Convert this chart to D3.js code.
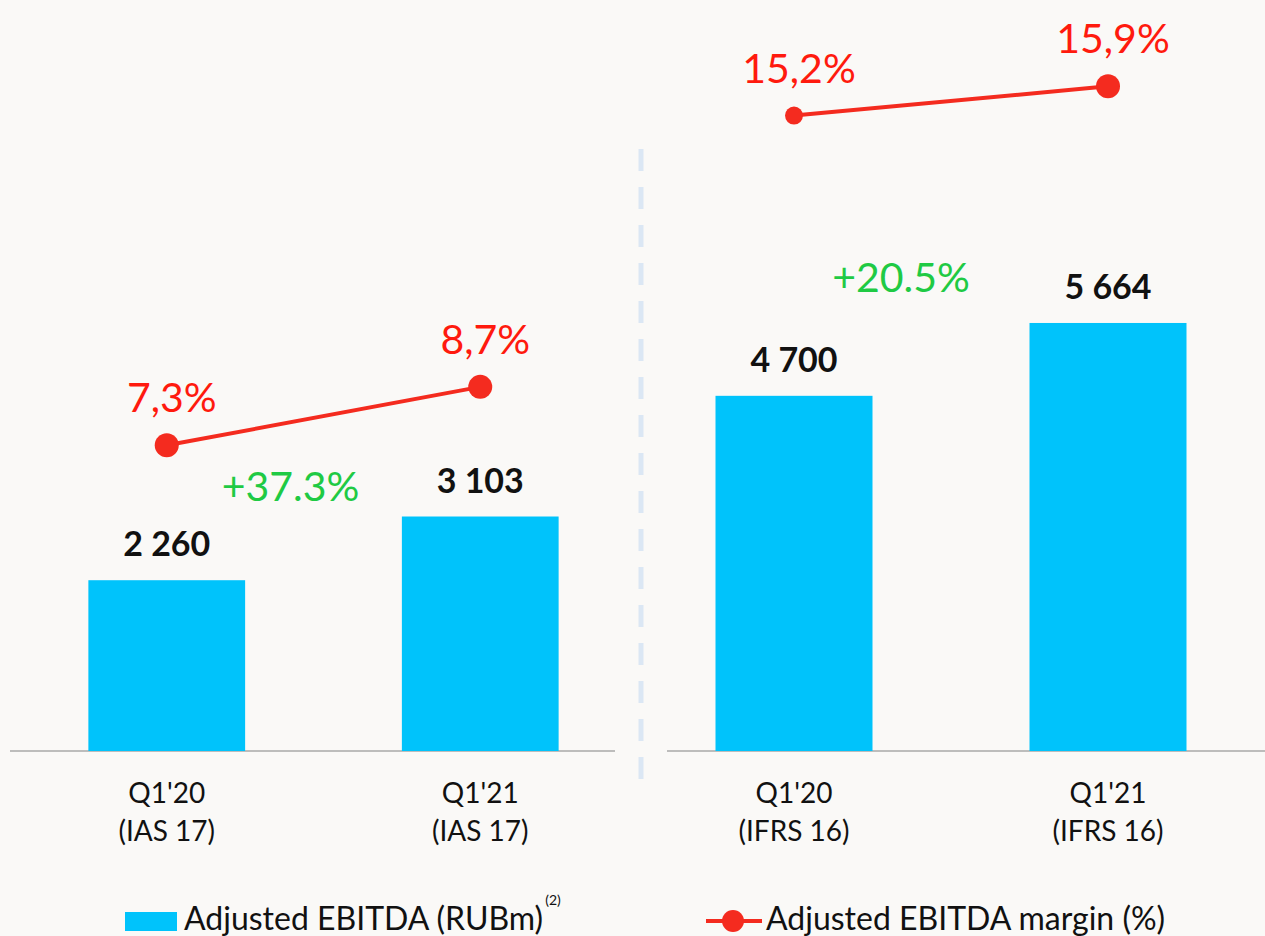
<!DOCTYPE html>
<html>
<head>
<meta charset="utf-8">
<script src="https://cdn.jsdelivr.net/npm/d3@7"></script>
<style>
  html, body { margin: 0; padding: 0; background: #faf9f7; }
  svg { display: block; font-family: Lato, "Open Sans", sans-serif; }
</style>
</head>
<body>
<svg id="chart" width="1265" height="936"></svg>
<script>
// Adjusted EBITDA by reporting standard
const categoriesIAS = ["Q1'20", "Q1'21"];
const categoriesIFRS = ["Q1'20", "Q1'21"];
const standardIAS = "(IAS 17)";
const standardIFRS = "(IFRS 16)";
const ebitdaIAS = [2260, 3103];
const ebitdaIFRS = [4700, 5664];
const marginIAS = [7.3, 8.7];
const marginIFRS = [15.2, 15.9];
const growthIAS = "+37.3%";
const growthIFRS = "+20.5%";
const legendBar = "Adjusted EBITDA (RUBm)";
const legendLine = "Adjusted EBITDA margin (%)";

const BAR = "#00c3fb", RED = "#f42b1f", RED_TXT = "#ff1a0e", GREEN = "#1fca44";
const fmtNum = v => d3.format(",")(v).replace(/,/g, " ");
const fmtPct = v => d3.format(".1f")(v).replace(".", ",") + "%";

const svg = d3.select("#chart");
svg.append("rect").attr("width", 1265).attr("height", 936).attr("fill", "#faf9f7");

const baseY = 751;
const yBar = d3.scaleLinear().domain([0, 6000]).range([baseY, baseY - 6000 * 0.07557]);
const yPct = d3.scaleLinear().domain([0, 18]).range([750, 750 - 18 * 41.74]);

const panels = [
  { cats: categoriesIAS, std: standardIAS, vals: ebitdaIAS, pct: marginIAS, growth: growthIAS,
    range: [10, 637], axis: [10, 615], r: [12, 12], growthDx: -33, growthDy: -16 },
  { cats: categoriesIFRS, std: standardIFRS, vals: ebitdaIFRS, pct: marginIFRS, growth: growthIFRS,
    range: [637, 1265], axis: [667, 1265], r: [9, 12], growthDx: -50, growthDy: -31 }
];

// dashed separator between the two standards
svg.append("line")
  .attr("x1", 641).attr("x2", 641).attr("y1", 149).attr("y2", 781)
  .attr("stroke", "#dbe7f4").attr("stroke-width", 5).attr("stroke-dasharray", "22 16");

panels.forEach(p => {
  const x = d3.scaleBand().domain(p.cats).range(p.range).paddingInner(0.5).paddingOuter(0.25);
  const cx = c => x(c) + x.bandwidth() / 2;
  const g = svg.append("g");

  // baseline
  g.append("line").attr("x1", p.axis[0]).attr("x2", p.axis[1])
    .attr("y1", baseY).attr("y2", baseY).attr("stroke", "#a8a8a8").attr("stroke-width", 1.5);

  // bars
  g.selectAll("rect.bar").data(p.vals).join("rect")
    .attr("x", (d, i) => x(p.cats[i])).attr("width", x.bandwidth())
    .attr("y", d => yBar(d)).attr("height", d => baseY - yBar(d))
    .attr("fill", BAR);

  // value labels
  g.selectAll("text.val").data(p.vals).join("text")
    .attr("x", (d, i) => cx(p.cats[i])).attr("y", d => yBar(d) - 24)
    .attr("text-anchor", "middle").attr("font-size", 34).attr("font-weight", 700)
    .attr("fill", "#111").text(fmtNum);

  // category labels
  p.cats.forEach(c => {
    const t = g.append("text").attr("x", cx(c)).attr("y", 803)
      .attr("text-anchor", "middle").attr("font-size", 28).attr("fill", "#111");
    t.append("tspan").attr("x", cx(c)).text(c);
    t.append("tspan").attr("x", cx(c)).attr("dy", 38).text(p.std);
  });

  // growth annotation
  const midX = (cx(p.cats[0]) + cx(p.cats[1])) / 2;
  g.append("text").attr("x", midX + p.growthDx).attr("y", yBar(p.vals[1]) + p.growthDy)
    .attr("text-anchor", "middle").attr("font-size", 41).attr("fill", GREEN).text(p.growth);

  // margin line
  const pts = p.pct.map((v, i) => [cx(p.cats[i]), yPct(v)]);
  g.append("path").attr("d", d3.line()(pts)).attr("fill", "none")
    .attr("stroke", RED).attr("stroke-width", 4);
  g.selectAll("circle").data(pts).join("circle")
    .attr("cx", d => d[0]).attr("cy", d => d[1]).attr("r", (d, i) => p.r[i]).attr("fill", RED);
  g.selectAll("text.pct").data(p.pct).join("text")
    .attr("x", (d, i) => cx(p.cats[i]) + 5).attr("y", d => yPct(d) - 33)
    .attr("text-anchor", "middle").attr("font-size", 41).attr("fill", RED_TXT).text(fmtPct);
});

// legend
const lg = svg.append("g");
lg.append("rect").attr("x", 125).attr("y", 912).attr("width", 52).attr("height", 19).attr("fill", BAR);
const lt = lg.append("text").attr("x", 184).attr("y", 930).attr("font-size", 32).attr("fill", "#111")
  .text(legendBar);
const endX = 184 + lt.node().getComputedTextLength();
lg.append("text").attr("x", endX + 2).attr("y", 905).attr("font-size", 14).attr("fill", "#111").text("(2)");

lg.append("line").attr("x1", 706).attr("x2", 762).attr("y1", 921).attr("y2", 921)
  .attr("stroke", RED).attr("stroke-width", 4);
lg.append("circle").attr("cx", 733).attr("cy", 921).attr("r", 11).attr("fill", RED);
lg.append("text").attr("x", 766).attr("y", 930).attr("font-size", 32).attr("fill", "#111").text(legendLine);
</script>
</body>
</html>
